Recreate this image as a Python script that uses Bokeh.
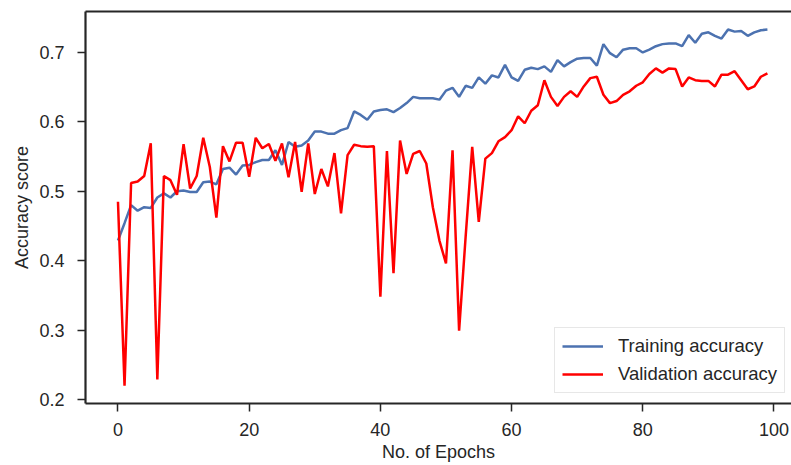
from bokeh.plotting import figure
from bokeh.models import (Range1d, FixedTicker, PrintfTickFormatter, LinearAxis,
                          Legend, LegendItem)
from bokeh.embed import file_html
from bokeh.resources import INLINE

epochs = list(range(100))

train_acc = [
    0.429, 0.454, 0.480, 0.472, 0.477, 0.476, 0.491, 0.497, 0.491, 0.500,
    0.501, 0.499, 0.499, 0.513, 0.514, 0.510, 0.532, 0.534, 0.524, 0.537,
    0.538, 0.542, 0.545, 0.545, 0.559, 0.538, 0.571, 0.564, 0.566, 0.573,
    0.586, 0.586, 0.583, 0.583, 0.588, 0.591, 0.615, 0.610, 0.603, 0.615,
    0.617, 0.618, 0.614, 0.620, 0.627, 0.636, 0.634, 0.634, 0.634, 0.632,
    0.645, 0.649, 0.636, 0.652, 0.649, 0.664, 0.655, 0.667, 0.664, 0.682,
    0.664, 0.659, 0.675, 0.678, 0.676, 0.680, 0.672, 0.689, 0.680, 0.686,
    0.691, 0.692, 0.692, 0.681, 0.712, 0.699, 0.693, 0.704, 0.706, 0.706,
    0.700, 0.704, 0.709, 0.712, 0.713, 0.713, 0.709, 0.725, 0.714, 0.727,
    0.729, 0.724, 0.720, 0.733, 0.730, 0.731, 0.724, 0.729, 0.732, 0.733,
]

val_acc = [
    0.485, 0.220, 0.512, 0.514, 0.522, 0.569, 0.229, 0.522, 0.516, 0.495,
    0.568, 0.504, 0.522, 0.577, 0.535, 0.462, 0.565, 0.543, 0.570, 0.570,
    0.521, 0.577, 0.562, 0.568, 0.544, 0.569, 0.520, 0.571, 0.499, 0.569,
    0.496, 0.532, 0.507, 0.555, 0.468, 0.552, 0.567, 0.565, 0.564, 0.565,
    0.348, 0.558, 0.382, 0.573, 0.525, 0.554, 0.558, 0.540, 0.477, 0.429,
    0.396, 0.559, 0.299, 0.435, 0.564, 0.456, 0.547, 0.555, 0.572, 0.578,
    0.588, 0.608, 0.598, 0.616, 0.624, 0.660, 0.636, 0.623, 0.636, 0.644,
    0.636, 0.651, 0.663, 0.665, 0.639, 0.627, 0.630, 0.639, 0.644, 0.652,
    0.657, 0.669, 0.677, 0.671, 0.677, 0.676, 0.651, 0.664, 0.660, 0.659,
    0.659, 0.651, 0.668, 0.668, 0.673, 0.660, 0.647, 0.651, 0.665, 0.670,
]

x_ticks = [0, 20, 40, 60, 80, 100]
y_ticks = [0.2, 0.3, 0.4, 0.5, 0.6, 0.7]
series_labels = ["Training accuracy", "Validation accuracy"]
x_label = "No. of Epochs"
y_label = "Accuracy score"

FONT = "Liberation Sans"
DARK = "#262626"

p = figure(width=791, height=465, output_backend="svg", toolbar_location=None,
           x_range=Range1d(-4.95, 102.67), y_range=Range1d(0.1942, 0.759),
           min_border_left=85, min_border_right=0, min_border_top=11,
           min_border_bottom=62, outline_line_color=None,
           background_fill_color="white", border_fill_color="white")

p.xgrid.visible = False
p.ygrid.visible = False

r1 = p.line(epochs, train_acc, line_color="#4c72b0", line_width=2.5)
r2 = p.line(epochs, val_acc, line_color="#ff0000", line_width=2.5)

for ax in (p.xaxis[0], p.yaxis[0]):
    ax.axis_line_color = DARK
    ax.axis_line_width = 2.2
    ax.major_tick_line_color = DARK
    ax.major_tick_line_width = 1.5
    ax.major_tick_out = 8
    ax.major_tick_in = 0
    ax.minor_tick_line_color = None
    ax.major_label_text_font = FONT
    ax.major_label_text_font_size = "18px"
    ax.major_label_text_color = DARK
    ax.axis_label_text_font = FONT
    ax.axis_label_text_font_size = "18px"
    ax.axis_label_text_font_style = "normal"
    ax.axis_label_text_color = DARK

p.xaxis[0].ticker = FixedTicker(ticks=x_ticks)
p.yaxis[0].ticker = FixedTicker(ticks=y_ticks)
p.yaxis[0].formatter = PrintfTickFormatter(format="%.1f")
p.xaxis[0].axis_label = x_label
p.yaxis[0].axis_label = y_label
p.xaxis[0].major_label_standoff = 11
p.yaxis[0].major_label_standoff = 13
p.xaxis[0].axis_label_standoff = 3
p.yaxis[0].axis_label_standoff = 4

top = LinearAxis(ticker=FixedTicker(ticks=[]), axis_line_color=DARK,
                 axis_line_width=2.2, major_tick_line_color=None,
                 minor_tick_line_color=None, major_tick_out=0, major_tick_in=0)
p.add_layout(top, "above")

legend = Legend(items=[LegendItem(label=series_labels[0], renderers=[r1]),
                       LegendItem(label=series_labels[1], renderers=[r2])],
                location=(469, 10), margin=0,
                label_text_font=FONT, label_text_font_size="18.5px",
                label_text_color=DARK, glyph_width=41, glyph_height=20,
                label_standoff=15, spacing=6, padding=7,
                border_line_color="#d0d0d0", border_line_width=1,
                background_fill_color="white", background_fill_alpha=0.8)
p.add_layout(legend)

open("out.html", "w").write(file_html(p, INLINE))
